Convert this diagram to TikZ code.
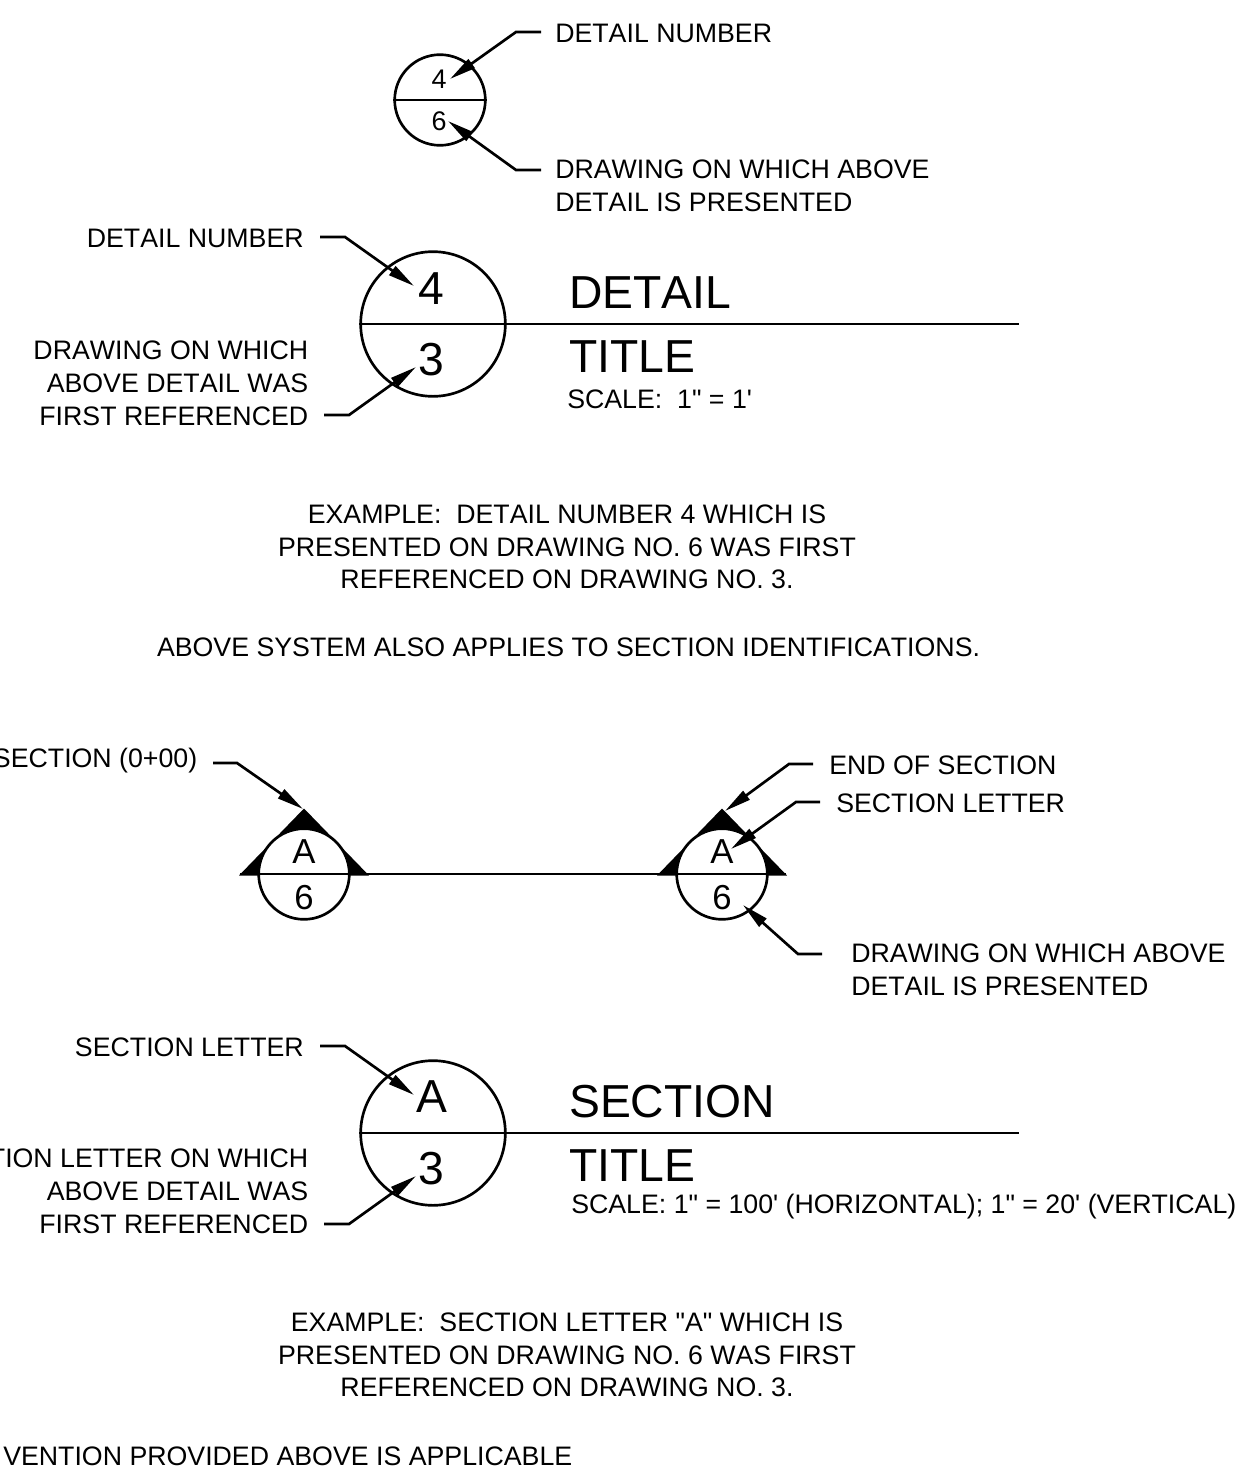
\documentclass[tikz,border=0pt]{standalone}
\usepackage{fontspec}
\setmainfont[Ligatures=TeXOff,Kerning=Off]{Liberation Sans}
\usetikzlibrary{arrows.meta}
\tikzset{
 x=0.75pt,y=-0.75pt,
 txt/.style={inner sep=0pt,font=\fontsize{20.05}{24.4}\selectfont,align=left},
 rtxt/.style={txt,align=right},
 ctxt/.style={txt,align=center},
 big/.style={inner sep=0pt,font=\fontsize{34.7}{40}\selectfont},
 mid/.style={inner sep=0pt,font=\fontsize{26}{30}\selectfont},
 small/.style={inner sep=0pt,font=\fontsize{20.2}{24}\selectfont},
 ln/.style={line width=2pt,line join=miter},
 lead/.style={line width=2pt,-{Triangle[length=20pt,width=8pt]}},
 bubble/.style={circle,draw,line width=2pt,inner sep=0pt},
 tri/.style={fill=black,draw=none},
}
\begin{document}
\begin{tikzpicture}
\useasboundingbox (0,0) rectangle (1238,1471);
% top bubble
\node[bubble,minimum size=68pt] (b1) at (440,100) {};
\draw[ln] (b1.west) -- (b1.east);
\node[small] (n4a) at (439,79) {4};
\node[small] (n6a) at (439,121) {6};
\coordinate (e1) at (516,32); \coordinate (e1s) at (541,32);
\coordinate (e2) at (516,170); \coordinate (e2s) at (541,170);
\coordinate (t1) at (450,79); \coordinate (t2) at (448,121);
\draw[lead] (e1s) -- (e1) -- (t1);
\draw[lead] (e2s) -- (e2) -- (t2);
\node[txt,anchor=west] (l1) at (555,33) {DETAIL NUMBER};
\node[txt,anchor=north west] (l2) at (555,160) {DRAWING ON WHICH ABOVE\\DETAIL IS PRESENTED};
% detail title
\node[bubble,minimum size=108.5pt] (b2) at (433,324) {};
\coordinate (r2) at (1019,324);
\draw[ln] (b2.west) -- (r2);
\node[big] (n4b) at (431,289) {4};
\node[big] (n3b) at (431,360) {3};
\node[big,anchor=west] (dt) at (569,293) {DETAIL};
\node[big,anchor=west] (tt) at (569,357) {TITLE};
\node[txt,anchor=west] (sc) at (567,399) {SCALE:\ \ 1" = 1'};
\node[rtxt,anchor=east] (l3) at (304,238) {DETAIL NUMBER};
\node[rtxt,anchor=north east] (l4) at (308.5,341) {DRAWING ON WHICH\\ABOVE DETAIL WAS\\FIRST REFERENCED};
\coordinate (s3) at (320,237); \coordinate (k3) at (345,237); \coordinate (t3) at (414,286);
\coordinate (s4) at (324,415); \coordinate (k4) at (349,415); \coordinate (t4) at (416,367);
\draw[lead] (s3) -- (k3) -- (t3);
\draw[lead] (s4) -- (k4) -- (t4);
\node[ctxt] (ex1) at (567,547) {EXAMPLE:\ \ DETAIL NUMBER 4 WHICH IS\\PRESENTED ON DRAWING NO. 6 WAS FIRST\\REFERENCED ON DRAWING NO. 3.};
\node[ctxt] (ab) at (568.5,647) {ABOVE SYSTEM ALSO APPLIES TO SECTION IDENTIFICATIONS.};
% section marks
\fill[tri] (304,808.5) -- (239,875.5) -- (369,875.5) -- cycle;
\fill[tri] (722,808.5) -- (657,875.5) -- (787,875.5) -- cycle;
\node[bubble,fill=white,minimum size=68pt] (c1) at (304,874) {};
\node[bubble,fill=white,minimum size=68pt] (c2) at (722,874) {};
\coordinate (a1) at (240,874); \coordinate (a2) at (786,874);
\draw[ln] (a1) -- (a2);
\node[mid] (a1t) at (304,852) {A};
\node[mid] (s1t) at (304,898) {6};
\node[mid] (a2t) at (722,852) {A};
\node[mid] (s2t) at (722,898) {6};
\node[rtxt,anchor=east] (l5) at (197.5,761) {SECTION (0+00)};
\coordinate (s5) at (213,763); \coordinate (k5) at (237,763); \coordinate (t5) at (303,809);
\draw[lead] (s5) -- (k5) -- (t5);
\coordinate (s6) at (813,764); \coordinate (k6) at (789,764); \coordinate (t6) at (725,811);
\draw[lead] (s6) -- (k6) -- (t6);
\coordinate (s7) at (820,802); \coordinate (k7) at (796,802); \coordinate (t7) at (731,849);
\draw[lead] (s7) -- (k7) -- (t7);
\coordinate (s8) at (822,954); \coordinate (k8) at (798,954); \coordinate (t8) at (743,905);
\draw[lead] (s8) -- (k8) -- (t8);
\node[txt,anchor=west] (l6) at (829,765) {END OF SECTION};
\node[txt,anchor=west] (l7) at (836,803) {SECTION LETTER};
\node[txt,anchor=north west] (l8) at (851,944) {DRAWING ON WHICH ABOVE\\DETAIL IS PRESENTED};
% section title
\node[bubble,minimum size=108.5pt] (b3) at (433,1133) {};
\coordinate (r3) at (1019,1133);
\draw[ln] (b3.west) -- (r3);
\node[big] (nA) at (432,1097) {A};
\node[big] (n3c) at (431,1169) {3};
\node[big,anchor=west] (st) at (569,1102) {SECTION};
\node[big,anchor=west] (tt2) at (569,1166) {TITLE};
\node[txt,anchor=west] (sc2) at (571,1207) {SCALE: 1" = 100' (HORIZONTAL); 1" = 20' (VERTICAL)};
\node[rtxt,anchor=east] (l9) at (304,1047) {SECTION LETTER};
\node[rtxt,anchor=north east] (l10) at (308.5,1149) {TION LETTER ON WHICH\\ABOVE DETAIL WAS\\FIRST REFERENCED};
\coordinate (s9) at (320,1046); \coordinate (k9) at (345,1046); \coordinate (t9) at (414,1095);
\coordinate (s10) at (324,1224); \coordinate (k10) at (349,1224); \coordinate (t10) at (416,1176);
\draw[lead] (s9) -- (k9) -- (t9);
\draw[lead] (s10) -- (k10) -- (t10);
\node[ctxt] (ex2) at (567,1355) {EXAMPLE:\ \ SECTION LETTER "A" WHICH IS\\PRESENTED ON DRAWING NO. 6 WAS FIRST\\REFERENCED ON DRAWING NO. 3.};
\node[txt,anchor=west] (l11) at (3,1456) {VENTION PROVIDED ABOVE IS APPLICABLE};
\end{tikzpicture}
\end{document}
